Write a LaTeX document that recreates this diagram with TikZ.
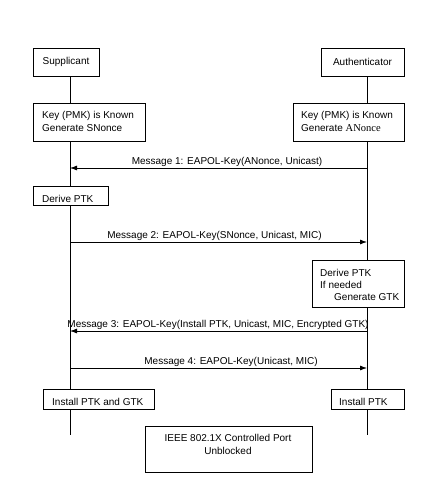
\documentclass[tikz,border=0pt]{standalone}
\usepackage{fontspec}
\setmainfont{Liberation Sans}
\newfontfamily\serifA{Liberation Serif}
\usetikzlibrary{arrows.meta}
\begin{document}
\begin{tikzpicture}[x=1pt,y=-1pt,
  font=\fontsize{10}{12}\selectfont,
  box/.style={draw, fill=white, line width=0.8pt, inner sep=0pt},
  life/.style={line width=0.8pt},
  msg/.style={line width=0.8pt, -{Latex[length=7pt,width=5pt]}},
  lbl/.style={anchor=south, inner sep=1pt},
  txt/.style={inner sep=0pt, anchor=west, align=left}]
\useasboundingbox[fill=white] (0,0) rectangle (433,489);
% lifeline ends
\coordinate (sEnd) at (70,435);
\coordinate (aEnd) at (367,435);
\coordinate (sTop) at (70,76);
\coordinate (aTop) at (367,76);
\draw[life] (sTop) -- (sEnd);
\draw[life] (aTop) -- (aEnd);
% header boxes
\node[box, minimum width=66pt, minimum height=28pt] (sup) at (66,62) {Supplicant};
\node[box, minimum width=83pt, minimum height=28pt] (auth) at (362.5,62) {Authenticator};
% key boxes
\node[box, minimum width=112pt, minimum height=38pt] (skey) at (89,122) {};
\node[txt, font=\fontsize{10}{13}\selectfont] (skeyt) at (42,121.5) {Key (PMK) is Known\\Generate SNonce};
\node[box, minimum width=111pt, minimum height=38pt] (akey) at (348.5,122) {};
\node[txt, font=\fontsize{10}{13}\selectfont] (akeyt) at (301,121.5) {Key (PMK) is Known\\Generate {\serifA\fontsize{10.5}{13}\selectfont ANonce}};
% message 1
\coordinate (a1) at (367,168);
\coordinate (s1) at (70,168);
\draw[msg] (a1) -- (s1);
\node[lbl] (l1) at (227,168) {Message 1: EAPOL-Key(ANonce, Unicast)};
% derive PTK left
\node[box, minimum width=75pt, minimum height=19pt] (sder) at (70.5,195.5) {};
\node[txt] (sdert) at (42,199) {Derive PTK};
% message 2
\coordinate (s2) at (70,242);
\coordinate (a2) at (367,242);
\draw[msg] (s2) -- (a2);
\node[lbl] (l2) at (214.5,242) {Message 2: EAPOL-Key(SNonce, Unicast, MIC)};
% derive PTK right
\node[box, minimum width=92pt, minimum height=47pt] (ader) at (358,283.5) {};
\node[txt] (adert) at (320,285) {Derive PTK\\If needed\\\hspace*{14pt}Generate GTK};
% message 3
\coordinate (a3) at (367,331);
\coordinate (s3) at (70,331);
\draw[msg] (a3) -- (s3);
\node[lbl] (l3) at (218,331) {Message 3: EAPOL-Key(Install PTK, Unicast, MIC, Encrypted GTK)};
% message 4
\coordinate (s4) at (70,368);
\coordinate (a4) at (367,368);
\draw[msg] (s4) -- (a4);
\node[lbl] (l4) at (231,368) {Message 4: EAPOL-Key(Unicast, MIC)};
% install boxes
\node[box, minimum width=111pt, minimum height=20pt] (sins) at (98.5,399) {};
\node[txt] (sinst) at (52,402) {Install PTK and GTK};
\node[box, minimum width=73pt, minimum height=20pt] (ains) at (367.5,399) {};
\node[txt] (ainst) at (339,402) {Install PTK};
% port box
\node[box, minimum width=167pt, minimum height=46pt] (port) at (228.5,449) {};
\node[inner sep=0pt, align=center, font=\fontsize{10}{13}\selectfont] (portt) at (228,444.5) {IEEE 802.1X Controlled Port\\Unblocked};
\end{tikzpicture}
\end{document}
